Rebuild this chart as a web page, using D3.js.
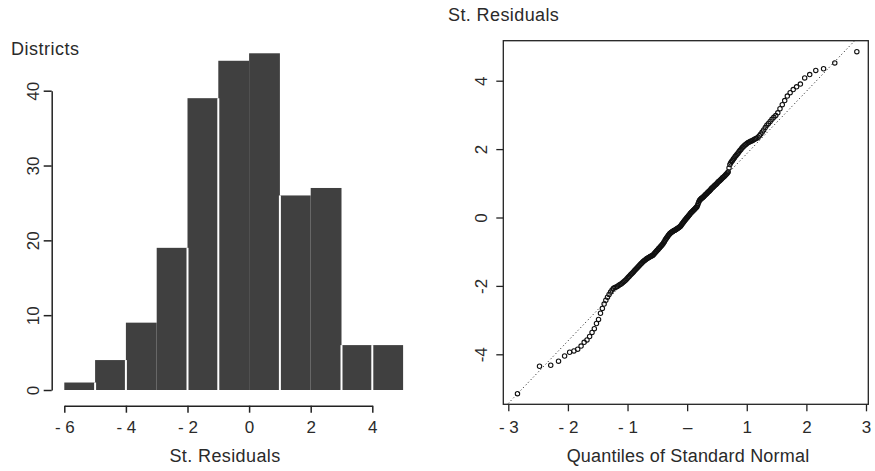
<!DOCTYPE html>
<html>
<head>
<meta charset="utf-8">
<script src="https://cdn.jsdelivr.net/npm/d3@7"></script>
<style>
  html, body { margin: 0; padding: 0; background: #fff; }
  svg { display: block; }
  text { font-family: "Liberation Sans", Arial, Helvetica, sans-serif; fill: #2a2a2a; }
</style>
</head>
<body>
<svg id="chart" width="875" height="471"></svg>
<script>
// histogram: bins of width 1 starting at these values
const binStarts = [-6, -5, -4, -3, -2, -1, 0, 1, 2, 3, 4];
const binCounts = [1, 4, 9, 19, 39, 44, 45, 26, 27, 6, 6];
// bin edges where a white gap shows between bars
const gapEdges = [-5, -4, -2, -1, 1, 3, 4];
const histXTicks = [-6, -4, -2, 0, 2, 4];
const histXLabels = ["- 6", "- 4", "- 2", "0", "2", "4"];
const histYTicks = [0, 10, 20, 30, 40];

// sorted standardized residuals
const residuals = [
  -5.15, -4.35, -4.32, -4.2, -4.05, -3.94, -3.9, -3.85, -3.76, -3.65,
  -3.58, -3.48, -3.36, -3.25, -3.1, -2.98, -2.8, -2.66, -2.53, -2.42,
  -2.33, -2.25, -2.18, -2.12, -2.07, -2.05, -2.03, -2.01, -1.98, -1.96,
  -1.94, -1.91, -1.88, -1.85, -1.82, -1.78, -1.75, -1.72, -1.68, -1.65,
  -1.62, -1.59, -1.56, -1.53, -1.5, -1.47, -1.44, -1.41, -1.38, -1.35,
  -1.33, -1.3, -1.28, -1.26, -1.24, -1.22, -1.2, -1.19, -1.17, -1.16,
  -1.14, -1.13, -1.12, -1.11, -1.09, -1.06, -1.04, -1.01, -0.99, -0.96,
  -0.94, -0.91, -0.89, -0.86, -0.84, -0.82, -0.79, -0.77, -0.73, -0.7,
  -0.66, -0.63, -0.6, -0.57, -0.54, -0.51, -0.49, -0.46, -0.45, -0.43,
  -0.42, -0.41, -0.39, -0.38, -0.37, -0.36, -0.35, -0.33, -0.32, -0.31,
  -0.29, -0.28, -0.26, -0.24, -0.21, -0.18, -0.16, -0.13, -0.11, -0.08,
  -0.06, -0.04, -0.01, 0.01, 0.04, 0.06, 0.08, 0.11, 0.13, 0.15,
  0.17, 0.19, 0.21, 0.23, 0.25, 0.27, 0.29, 0.31, 0.35, 0.4,
  0.45, 0.5, 0.52, 0.54, 0.56, 0.57, 0.59, 0.61, 0.63, 0.65,
  0.67, 0.69, 0.71, 0.73, 0.75, 0.77, 0.79, 0.81, 0.84, 0.86,
  0.88, 0.9, 0.92, 0.94, 0.96, 0.98, 1.0, 1.03, 1.05, 1.07,
  1.09, 1.11, 1.13, 1.16, 1.18, 1.2, 1.22, 1.25, 1.27, 1.3,
  1.33, 1.45, 1.55, 1.6, 1.64, 1.67, 1.71, 1.74, 1.78, 1.81,
  1.85, 1.88, 1.92, 1.96, 1.99, 2.03, 2.06, 2.09, 2.12, 2.14,
  2.17, 2.19, 2.21, 2.23, 2.24, 2.26, 2.28, 2.3, 2.32, 2.35,
  2.39, 2.44, 2.5, 2.56, 2.63, 2.7, 2.75, 2.81, 2.87, 2.93,
  2.98, 3.06, 3.18, 3.3, 3.42, 3.55, 3.65, 3.74, 3.82, 3.9,
  4.08, 4.18, 4.3, 4.35, 4.52, 4.85
];
const qqXTicks = [-3, -2, -1, 0, 1, 2, 3];
const qqXLabels = ["- 3", "- 2", "- 1", "\u2013", "1", "2", "3"];
const qqYTicks = [-4, -2, 0, 2, 4];
const qqYLabels = ["-4", "-2", "0", "2", "4"];
const lineIntercept = 0.04;
const lineSlope = 1.825;

// inverse normal cdf (Acklam)
function qnorm(p) {
  const a = [-39.69683028665376, 220.9460984245205, -275.9285104469687, 138.357751867269, -30.66479806614716, 2.506628277459239];
  const b = [-54.47609879822406, 161.5858368580409, -155.6989798598866, 66.80131188771972, -13.28068155288572];
  const c = [-0.007784894002430293, -0.3223964580411365, -2.400758277161838, -2.549732539343734, 4.374664141464968, 2.938163982698783];
  const d = [0.007784695709041462, 0.3224671290700398, 2.445134137142996, 3.754408661907416];
  const lo = 0.02425;
  let q, r;
  if (p < lo) {
    q = Math.sqrt(-2 * Math.log(p));
    return (((((c[0]*q+c[1])*q+c[2])*q+c[3])*q+c[4])*q+c[5]) / ((((d[0]*q+d[1])*q+d[2])*q+d[3])*q+1);
  }
  if (p > 1 - lo) {
    q = Math.sqrt(-2 * Math.log(1 - p));
    return -(((((c[0]*q+c[1])*q+c[2])*q+c[3])*q+c[4])*q+c[5]) / ((((d[0]*q+d[1])*q+d[2])*q+d[3])*q+1);
  }
  q = p - 0.5; r = q * q;
  return (((((a[0]*r+a[1])*r+a[2])*r+a[3])*r+a[4])*r+a[5])*q / (((((b[0]*r+b[1])*r+b[2])*r+b[3])*r+b[4])*r+1);
}

const svg = d3.select("#chart");
const ink = "#222";

// ---------- left: histogram ----------
const xL = d3.scaleLinear().domain([-6, 4]).range([64.3, 372.3]);
const yL = d3.scaleLinear().domain([0, 40]).range([390, 90.7]);

const hist = svg.append("g");
hist.selectAll("rect.bar")
  .data(binStarts.map((s, i) => ({ x0: s, x1: s + 1, n: binCounts[i] })))
  .join("rect")
    .attr("class", "bar")
    .attr("x", d => xL(d.x0))
    .attr("width", d => xL(d.x1) - xL(d.x0))
    .attr("y", d => yL(d.n))
    .attr("height", d => yL(0) - yL(d.n))
    .attr("fill", "#404040");

hist.selectAll("line.gap")
  .data(gapEdges)
  .join("line")
    .attr("class", "gap")
    .attr("x1", d => xL(d)).attr("x2", d => xL(d))
    .attr("y1", yL(0))
    .attr("y2", d => {
      const i = binStarts.indexOf(d);
      return yL(Math.min(binCounts[i - 1], binCounts[i]));
    })
    .attr("stroke", "#fff")
    .attr("stroke-width", 2);

const axXL = svg.append("g")
  .attr("transform", "translate(0,405.7)")
  .call(d3.axisBottom(xL).tickValues(histXTicks).tickSize(7).tickSizeOuter(0)
    .tickFormat((d, i) => histXLabels[i]));
axXL.select(".domain").attr("stroke", ink).attr("stroke-width", 1.5);
axXL.selectAll(".tick line").attr("stroke", ink).attr("stroke-width", 1.5);
axXL.selectAll(".tick text").attr("y", 27).attr("dy", 0)
  .style("font-size", "17px").attr("fill", "#2a2a2a");

const axYL = svg.append("g")
  .attr("transform", "translate(51.7,0)")
  .call(d3.axisLeft(yL).tickValues(histYTicks).tickSize(8).tickSizeOuter(0));
axYL.select(".domain").attr("stroke", ink).attr("stroke-width", 1.5);
axYL.selectAll(".tick line").attr("stroke", ink).attr("stroke-width", 1.5);
axYL.selectAll(".tick text")
  .attr("transform", "rotate(-90)")
  .attr("x", 0).attr("y", -12.5).attr("dy", 0)
  .attr("text-anchor", "middle")
  .style("font-size", "17px").attr("fill", "#2a2a2a");

svg.append("text").attr("x", 11).attr("y", 55)
  .style("font-size", "18px").style("letter-spacing", "0.5px").text("Districts");
svg.append("text").attr("x", 225).attr("y", 462).attr("text-anchor", "middle")
  .style("font-size", "18px").style("letter-spacing", "0.4px").text("St. Residuals");

// ---------- right: normal QQ plot ----------
const box = { left: 503.3, right: 868.3, top: 40.7, bottom: 404.3 };
const xR = d3.scaleLinear().domain([-3, 3]).range([508.3, 866]);
const yR = d3.scaleLinear().domain([-4, 4]).range([354.3, 80.7]);

const n = residuals.length;
const pts = residuals.map((r, i) => ({ q: qnorm((i + 0.5) / n), r }));

svg.append("clipPath").attr("id", "qqclip")
  .append("rect")
    .attr("x", box.left).attr("y", box.top)
    .attr("width", box.right - box.left).attr("height", box.bottom - box.top);

const qq = svg.append("g").attr("clip-path", "url(#qqclip)");
const xs = xR.invert(box.left), xe = xR.invert(box.right);
qq.append("line")
  .attr("x1", xR(xs)).attr("y1", yR(lineIntercept + lineSlope * xs))
  .attr("x2", xR(xe)).attr("y2", yR(lineIntercept + lineSlope * xe))
  .attr("stroke", "#111").attr("stroke-width", 1)
  .attr("stroke-dasharray", "1,2.6");

qq.selectAll("circle")
  .data(pts)
  .join("circle")
    .attr("cx", d => xR(d.q))
    .attr("cy", d => yR(d.r))
    .attr("r", 2.2)
    .attr("fill", "none")
    .attr("stroke", "#111")
    .attr("stroke-width", 1.1);

svg.append("rect")
  .attr("x", box.left).attr("y", box.top)
  .attr("width", box.right - box.left).attr("height", box.bottom - box.top)
  .attr("fill", "none").attr("stroke", ink).attr("stroke-width", 1.3);

const axXR = svg.append("g")
  .attr("transform", `translate(0,${box.bottom})`)
  .call(d3.axisBottom(xR).tickValues(qqXTicks).tickSize(7).tickSizeOuter(0)
    .tickFormat((d, i) => qqXLabels[i]));
axXR.select(".domain").remove();
axXR.selectAll(".tick line").attr("stroke", ink).attr("stroke-width", 1.3);
axXR.selectAll(".tick text").attr("y", 28.5).attr("dy", 0)
  .style("font-size", "17px").attr("fill", "#2a2a2a");

const axYR = svg.append("g")
  .attr("transform", `translate(${box.left},0)`)
  .call(d3.axisLeft(yR).tickValues(qqYTicks).tickSize(7).tickSizeOuter(0)
    .tickFormat((d, i) => qqYLabels[i]));
axYR.select(".domain").remove();
axYR.selectAll(".tick line").attr("stroke", ink).attr("stroke-width", 1.3);
axYR.selectAll(".tick text")
  .attr("transform", "rotate(-90)")
  .attr("x", 0).attr("y", -16.5).attr("dy", 0)
  .attr("text-anchor", "middle")
  .style("font-size", "17px").attr("fill", "#2a2a2a");

svg.append("text").attr("x", 448).attr("y", 21)
  .style("font-size", "18px").style("letter-spacing", "0.4px").text("St. Residuals");
svg.append("text").attr("x", 688).attr("y", 462).attr("text-anchor", "middle")
  .style("font-size", "18px").style("letter-spacing", "0.2px").text("Quantiles of Standard Normal");
</script>
</body>
</html>
